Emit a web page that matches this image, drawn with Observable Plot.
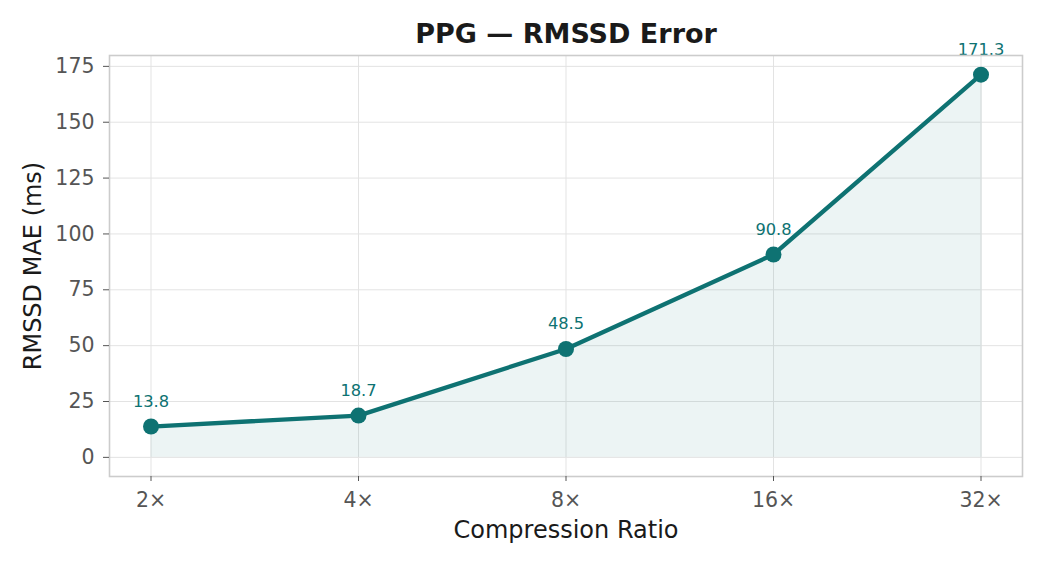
<!DOCTYPE html>
<html>
<head>
<meta charset="utf-8">
<script src="https://cdn.jsdelivr.net/npm/d3@7"></script>
<script src="https://cdn.jsdelivr.net/npm/@observablehq/plot@0.6"></script>
<style>
  html, body { margin: 0; padding: 0; background: #fff; }
  body { width: 1045px; height: 565px; overflow: hidden; font-family: "DejaVu Sans", sans-serif; position: relative; }
  #title { position: absolute; left: 566px; top: 33px; transform: translate(-50%, -50%);
    font-weight: bold; font-size: 27px; color: #1a1a1a; white-space: nowrap; z-index: 2; }
  #chart { position: absolute; left: 0; top: 0; }
</style>
</head>
<body>
<div id="title">PPG — RMSSD Error</div>
<div id="chart"></div>
<script>
const ratios = ["2×", "4×", "8×", "16×", "32×"];
const mae = [13.8, 18.7, 48.5, 90.8, 171.3];
const yTicks = [0, 25, 50, 75, 100, 125, 150, 175];

const data = ratios.map((r, i) => ({i, r, v: mae[i]}));
const teal = "#0e7272";

const chart = Plot.plot({
  width: 1045,
  height: 565,
  marginLeft: 109,
  marginRight: 23,
  marginTop: 55,
  marginBottom: 89,
  style: {fontFamily: "DejaVu Sans, sans-serif", fontSize: "20px", background: "transparent", overflow: "visible"},
  x: {domain: [-0.2, 4.2], ticks: [0, 1, 2, 3, 4]},
  y: {domain: [-8.565, 179.865], ticks: yTicks},
  marks: [
    Plot.gridX([0, 1, 2, 3, 4], {stroke: "#e3e3e3", strokeOpacity: 1, strokeWidth: 1}),
    Plot.gridY(yTicks, {stroke: "#e3e3e3", strokeOpacity: 1, strokeWidth: 1}),
    Plot.areaY(data, {x: "i", y: "v", fill: teal, fillOpacity: 0.08}),
    Plot.ruleX([4], {y1: 0, y2: 171.3, stroke: "#d6dede", strokeWidth: 1}),
    Plot.lineY(data, {x: "i", y: "v", stroke: teal, strokeWidth: 4.3}),
    Plot.dot(data, {x: "i", y: "v", r: 8, fill: teal, stroke: "none"}),
    Plot.text(data, {x: "i", y: "v", text: d => d.v.toFixed(1), dy: -25, fill: teal, fontSize: 16.3}),
    Plot.frame({stroke: "#cccccc", strokeWidth: 1.6}),
    Plot.axisX([0, 1, 2, 3, 4], {tickFormat: i => ratios[i], tickSize: 5, tickPadding: 11, fontSize: 20.5, color: "#555",
      stroke: "#555", label: "Compression Ratio", labelAnchor: "center", labelArrow: "none", labelOffset: 61}),
    Plot.axisY(yTicks, {tickSize: 6, tickPadding: 9, fontSize: 20.5, color: "#555", stroke: "#555",
      label: "RMSSD MAE (ms)", labelAnchor: "center", labelArrow: "none", labelOffset: 86})
  ]
});
document.getElementById("chart").appendChild(chart);
chart.querySelectorAll("g[aria-label='x-axis label'] text, g[aria-label='y-axis label'] text").forEach(t => {
  t.setAttribute("fill", "#1a1a1a");
  t.style.fontSize = "24px";
});
</script>
</body>
</html>
